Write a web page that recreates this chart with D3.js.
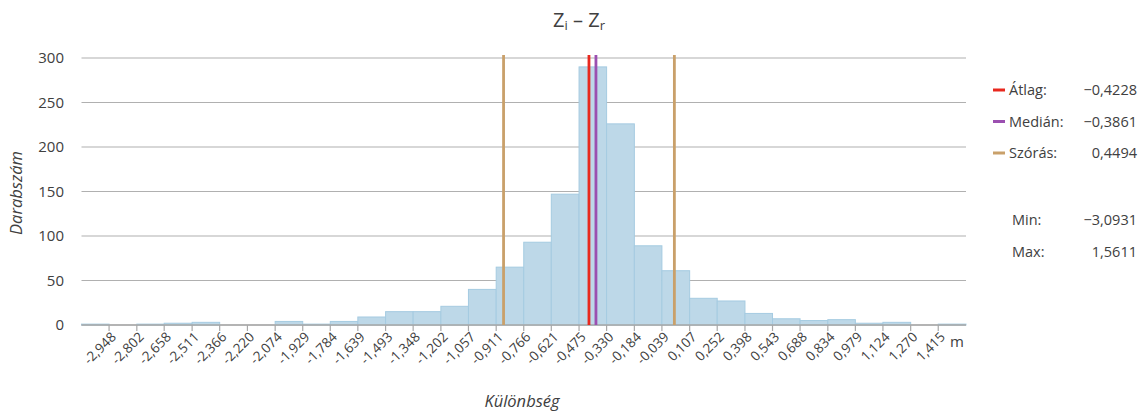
<!DOCTYPE html>
<html><head><meta charset="utf-8">
<script src="https://cdn.jsdelivr.net/npm/d3@7/dist/d3.min.js"></script>
<style>
html,body{margin:0;padding:0;background:#fff;}
text{font-family:"Open Sans","DejaVu Sans",sans-serif;fill:#404040;}
</style></head>
<body>
<svg id="chart" width="1145" height="416"></svg>
<script>
const edgeLabels = ["-2,948","-2,802","-2,658","-2,511","-2,366","-2,220","-2,074","-1,929","-1,784","-1,639","-1,493","-1,348","-1,202","-1,057","-0,911","-0,766","-0,621","-0,475","-0,330","-0,184","-0,039","0,107","0,252","0,398","0,543","0,688","0,834","0,979","1,124","1,270","1,415"];
const counts = [1,0,1,2,3,0,0,4,1,4,9,15,15,21,40,65,93,147,290,226,89,61,30,27,13,7,5,6,2,3,0,1];
const yTicks = [0,50,100,150,200,250,300];
const minVal = -3.0931, maxVal = 1.5611;
const meanVal = -0.4228, medianVal = -0.3861, sdVal = 0.4494;
const legendRows = [
  {label:"Átlag:", value:"−0,4228", color:"#e8281e"},
  {label:"Medián:", value:"−0,3861", color:"#9b4fb0"},
  {label:"Szórás:", value:"0,4494", color:"#c9a06a"}
];
const statRows = [{label:"Min:", value:"−3,0931"},{label:"Max:", value:"1,5611"}];

const svg = d3.select("#chart");
const L = 81.5, R = 966, T = 58, B = 325;
const x = d3.scaleLinear().domain([minVal, maxVal]).range([L, R]);
const y = d3.scaleLinear().domain([0, 300]).range([B, T]);

const edges = [minVal, ...edgeLabels.map(s => +s.replace(",", ".")), maxVal];

// gridlines
svg.append("g").selectAll("line").data(yTicks).join("line")
  .attr("x1", L).attr("x2", R)
  .attr("y1", d => y(d)).attr("y2", d => y(d))
  .attr("stroke", "#b0b0b0").attr("stroke-width", 1.2);

// y labels
svg.append("g").selectAll("text").data(yTicks).join("text")
  .attr("x", 64).attr("y", d => y(d)).attr("dy", "0.35em")
  .attr("text-anchor", "end").style("font-size", "15px")
  .text(d => d);

// bars
svg.append("g").selectAll("rect").data(counts).join("rect")
  .attr("x", (d, i) => x(edges[i]))
  .attr("width", (d, i) => x(edges[i + 1]) - x(edges[i]))
  .attr("y", d => y(d))
  .attr("height", d => y(0) - y(d))
  .attr("fill", "#bdd8e8")
  .attr("stroke", "#a5cbe1").attr("stroke-width", 1);

// axis baseline
svg.append("line").attr("x1", L).attr("x2", R).attr("y1", y(0)).attr("y2", y(0))
  .attr("stroke", "#a8a8a8").attr("stroke-width", 1.5);

// ticks
const inner = edges.slice(1, -1);
svg.append("g").selectAll("line").data(inner).join("line")
  .attr("x1", d => x(d)).attr("x2", d => x(d))
  .attr("y1", y(0)).attr("y2", y(0) + 6)
  .attr("stroke", "#a8a8a8").attr("stroke-width", 1.2);

svg.append("g").selectAll("text").data(edgeLabels).join("text")
  .attr("transform", (d, i) => `translate(${x(inner[i]) + 1},${y(0) + 6}) rotate(-45)`)
  .attr("text-anchor", "end").attr("dy", "0.71em")
  .style("font-size", "13.5px")
  .text(d => d);

svg.append("text").attr("x", 950).attr("y", 347).style("font-size", "15px").text("m");

// stat lines
const statLines = [
  {v: meanVal - sdVal, c: legendRows[2].color},
  {v: meanVal + sdVal, c: legendRows[2].color},
  {v: meanVal, c: legendRows[0].color},
  {v: medianVal, c: legendRows[1].color}
];
svg.append("g").selectAll("line").data(statLines).join("line")
  .attr("x1", d => x(d.v)).attr("x2", d => x(d.v))
  .attr("y1", 55).attr("y2", y(0))
  .attr("stroke", d => d.c).attr("stroke-width", 2.8);

// title
const title = svg.append("text").attr("x", 579).attr("y", 27).attr("text-anchor", "middle")
  .style("font-size", "20px");
title.append("tspan").text("Z");
title.append("tspan").text("i").style("font-size", "13px").attr("dy", 3);
title.append("tspan").text(" – Z").attr("dy", -3);
title.append("tspan").text("r").style("font-size", "13px").attr("dy", 3);

// axis titles
svg.append("text").attr("transform", "translate(22,193) rotate(-90)")
  .attr("text-anchor", "middle").style("font-size", "16.5px").style("font-style", "italic")
  .text("Darabszám");
svg.append("text").attr("x", 522).attr("y", 407)
  .attr("text-anchor", "middle").style("font-size", "16.5px").style("font-style", "italic")
  .text("Különbség");

// legend
const lg = svg.append("g");
legendRows.forEach((r, i) => {
  const cy = 90 + i * 31.5;
  lg.append("line").attr("x1", 993).attr("x2", 1005).attr("y1", cy).attr("y2", cy)
    .attr("stroke", r.color).attr("stroke-width", 3);
  lg.append("text").attr("x", 1009).attr("y", cy).attr("dy", "0.35em")
    .style("font-size", "14.5px").text(r.label);
  lg.append("text").attr("x", 1137).attr("y", cy).attr("dy", "0.35em")
    .attr("text-anchor", "end").style("font-size", "14.5px").text(r.value);
});
statRows.forEach((r, i) => {
  const cy = 220 + i * 32;
  lg.append("text").attr("x", 1012).attr("y", cy).attr("dy", "0.35em")
    .style("font-size", "14.5px").text(r.label);
  lg.append("text").attr("x", 1137).attr("y", cy).attr("dy", "0.35em")
    .attr("text-anchor", "end").style("font-size", "14.5px").text(r.value);
});
</script>
</body></html>
